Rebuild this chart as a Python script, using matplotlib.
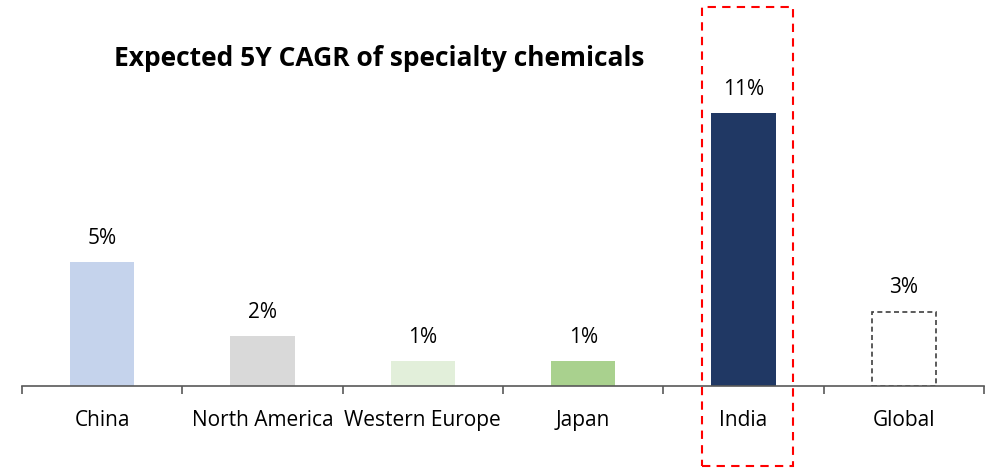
import matplotlib.pyplot as plt
import numpy as np
from matplotlib.patches import Rectangle

regions = ["China", "North America", "Western Europe", "Japan", "India", "Global"]
cagr = [5, 2, 1, 1, 11, 3]
labels = ["5%", "2%", "1%", "1%", "11%", "3%"]
colors = ["#c5d3ec", "#d9d9d9", "#e2efda", "#a9d18e", "#203864", "white"]

plt.rcParams['font.family'] = ['Open Sans', 'DejaVu Sans']

fig = plt.figure(figsize=(9.87, 4.69), dpi=100)
ax = fig.add_axes([22 / 987, 83 / 469, 962 / 987, 372 / 469])

x = np.arange(len(regions))
bars = ax.bar(x, cagr, width=0.4, color=colors)
# Global bar: dashed outline only
bars[-1].set_edgecolor('#404040')
bars[-1].set_linestyle((0, (3, 2)))
bars[-1].set_linewidth(1.2)

for xi, v, t in zip(x, cagr, labels):
    ax.annotate(t, (xi, v), xytext=(0, 17), textcoords='offset points',
                ha='center', va='center', fontsize=15)

ax.set_xlim(-0.5, 5.5)
ax.set_ylim(0, 15)
for s in ['top', 'right', 'left']:
    ax.spines[s].set_visible(False)
ax.spines['bottom'].set_color('#595959')
ax.spines['bottom'].set_linewidth(1.2)
ax.set_yticks([])
ax.set_xticks(x)
ax.set_xticklabels(regions, fontsize=15)
ax.tick_params(axis='x', which='major', length=0, pad=17)
ax.set_xticks(np.arange(-0.5, 6, 1), minor=True)
ax.tick_params(axis='x', which='minor', length=6, width=1.2, color='#595959')

# red dashed highlight around India
ax.add_patch(Rectangle((3.74, -3.23), 0.57, 18.5, fill=False, edgecolor='#ff0000',
                       linestyle=(0, (4, 3)), linewidth=1.5, clip_on=False))

fig.text(379 / 987, 1 - 58 / 469, "Expected 5Y CAGR of specialty chemicals",
         ha='center', va='center', fontsize=19, fontweight='bold')

fig.savefig('out.png', dpi=100)
